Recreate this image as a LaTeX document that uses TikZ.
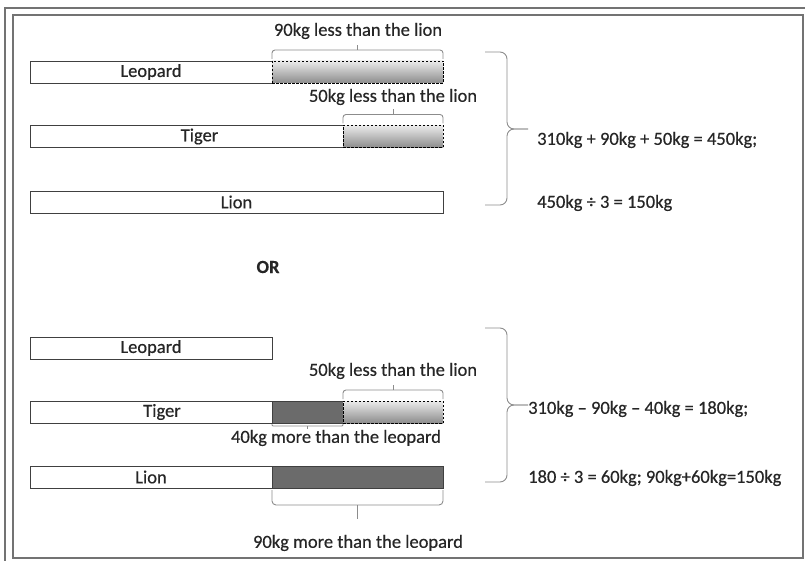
\documentclass[tikz,border=0pt]{standalone}
\usepackage{fontspec}
\setmainfont{Carlito}[FakeBold=0.5]
\usetikzlibrary{positioning}

\begin{document}
\begin{tikzpicture}[
        x=1pt, y=-1pt,
        font=\fontsize{18.5}{22}\selectfont,
        node distance=0pt,
        bar/.style={rectangle, draw=black!75, line width=0.9pt, fill=white,
                    minimum height=22pt, inner sep=0pt, outer sep=0pt,
                    text=black!85},
        lessbox/.style={rectangle, draw=black, line width=0.9pt, dashed,
                        dash pattern=on 2.5pt off 1.5pt,
                        top color=black!8, bottom color=black!45,
                        minimum height=22pt, inner sep=0pt, outer sep=0pt},
        morebox/.style={rectangle, draw=black!75, line width=0.9pt, fill=black!58,
                        minimum height=22pt, inner sep=0pt, outer sep=0pt},
        bracket/.style={draw=black!45, line width=0.9pt, rounded corners=3pt},
        bigbracket/.style={draw=black!45, line width=0.9pt, rounded corners=7pt},
        lbl/.style={text=black!85, inner sep=1pt},
        sum/.style={text=black!85, anchor=west, inner sep=0pt}
    ]

    \useasboundingbox (0,0) rectangle (805,561);

    % frame
    \draw[black!55, line width=1.8pt] (5,561) -- (5,8) -- (805,8);
    \draw[black!55, line width=1.4pt] (13,15) rectangle (803,558);

    % first way: bars
    \node[bar, minimum width=242pt, anchor=west] (leoA) at (30,72) {Leopard};
    \node[lessbox, minimum width=171pt, right=of leoA] (leoAless) {};
    \node[bar, minimum width=313pt, anchor=west] (tigA) at (30,136.5) {\hspace{26pt}Tiger};
    \node[lessbox, minimum width=100pt, right=of tigA] (tigAless) {};
    \node[bar, minimum width=413pt, anchor=west] (lionA) at (30,202) {Lion};

    % first way: brackets and labels
    \draw[bracket] ([yshift=2pt]leoAless.north west) |- ([yshift=11pt]leoAless.north)
                   -| ([yshift=2pt]leoAless.north east);
    \draw[bracket] ([yshift=11pt]leoAless.north) -- ++(0,-5);
    \node[lbl] (leoAtxt) at (358,31) {90kg less than the lion};
    \draw[bracket] ([yshift=2pt]tigAless.north west) |- ([yshift=11pt]tigAless.north)
                   -| ([yshift=2pt]tigAless.north east);
    \draw[bracket] ([yshift=11pt]tigAless.north) -- ++(0,-5);
    \node[lbl] (tigAtxt) at (393,97) {50kg less than the lion};

    \coordinate (sumAtop) at (485,52);
    \coordinate (sumAbot) at (485,205);
    \coordinate (sumAtip) at (528,129);
    \draw[bigbracket] (sumAtop) -| ([xshift=-21pt]sumAtip) -- (sumAtip);
    \draw[bigbracket] (sumAbot) -| ([xshift=-21pt]sumAtip) -- (sumAtip);
    \node[sum] (sumA1) at (537,140) {310kg + 90kg + 50kg = 450kg;};
    \node[sum] (sumA2) at (537,203) {450kg ÷ 3 = 150kg};

    \node[lbl, font=\fontsize{18.5}{22}\selectfont\bfseries] (or) at (268,267) {OR};

    % second way: bars
    \node[bar, minimum width=242pt, anchor=west] (leoB) at (30,348) {Leopard};
    \node[bar, minimum width=242pt, anchor=west] (tigB) at (30,412) {\hspace{22pt}Tiger};
    \node[morebox, minimum width=71pt, right=of tigB] (tigBmore) {};
    \node[lessbox, minimum width=100pt, right=of tigBmore] (tigBless) {};
    \node[bar, minimum width=242pt, anchor=west] (lionB) at (30,477) {Lion};
    \node[morebox, minimum width=171pt, right=of lionB] (lionBmore) {};

    % second way: brackets and labels
    \draw[bracket] ([yshift=2pt]tigBless.north west) |- ([yshift=11pt]tigBless.north)
                   -| ([yshift=2pt]tigBless.north east);
    \draw[bracket] ([yshift=11pt]tigBless.north) -- ++(0,-5);
    \node[lbl] (tigBtxt) at (393,371) {50kg less than the lion};
    \draw[bracket, rounded corners=1pt] ([yshift=-1pt]tigBmore.south west) |- ([yshift=-3pt]tigBmore.south)
                   -| ([yshift=-1pt]tigBmore.south east);
    \draw[bracket] ([yshift=-3pt]tigBmore.south) -- ++(0,3);
    \node[lbl] (tigBmtxt) at (336,438) {40kg more than the leopard};
    \draw[bracket, rounded corners=4pt] ([yshift=-2pt]lionBmore.south west) |- ([yshift=-17pt]lionBmore.south)
                   -| ([yshift=-2pt]lionBmore.south east);
    \draw[bracket] ([yshift=-17pt]lionBmore.south) -- ++(0,14);
    \node[lbl] (lionBtxt) at (358,543) {90kg more than the leopard};

    \coordinate (sumBtop) at (485,328);
    \coordinate (sumBbot) at (485,482);
    \coordinate (sumBtip) at (528,405);
    \draw[bigbracket] (sumBtop) -| ([xshift=-21pt]sumBtip) -- (sumBtip);
    \draw[bigbracket] (sumBbot) -| ([xshift=-21pt]sumBtip) -- (sumBtip);
    \node[sum] (sumB1) at (528,409) {310kg – 90kg – 40kg = 180kg;};
    \node[sum] (sumB2) at (528,478) {180 ÷ 3 = 60kg; 90kg+60kg=150kg};

\end{tikzpicture}
\end{document}
